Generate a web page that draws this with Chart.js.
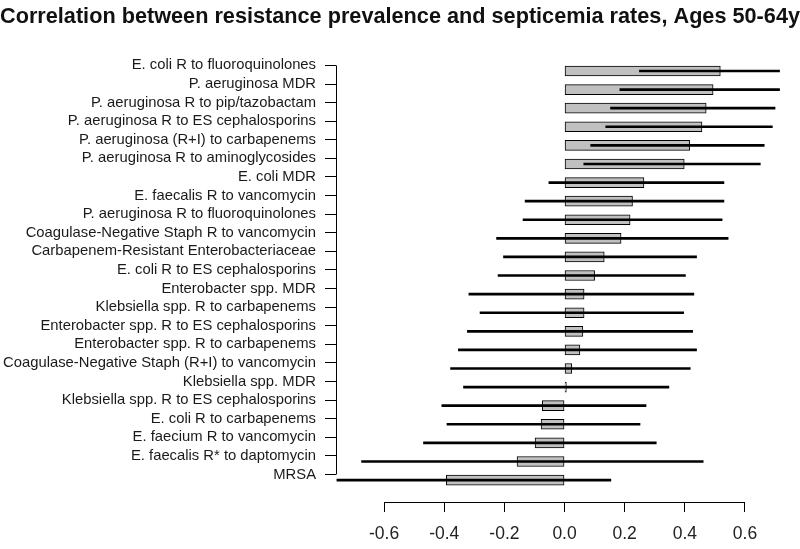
<!DOCTYPE html>
<html>
<head>
<meta charset="utf-8">
<title>Correlation between resistance prevalence and septicemia rates</title>
<script src="https://cdn.jsdelivr.net/npm/chart.js@4/dist/chart.umd.min.js"></script>
<style>
  html, body { margin: 0; padding: 0; background: #fff; }
  canvas { display: block; }
</style>
</head>
<body>
<canvas id="chart" width="800" height="549"></canvas>
<script>
// Data
const categories = [
  'E. coli R to fluoroquinolones',
  'P. aeruginosa MDR',
  'P. aeruginosa R to pip/tazobactam',
  'P. aeruginosa R to ES cephalosporins',
  'P. aeruginosa (R+I) to carbapenems',
  'P. aeruginosa R to aminoglycosides',
  'E. coli MDR',
  'E. faecalis R to vancomycin',
  'P. aeruginosa R to fluoroquinolones',
  'Coagulase-Negative Staph R to vancomycin',
  'Carbapenem-Resistant Enterobacteriaceae',
  'E. coli R to ES cephalosporins',
  'Enterobacter spp. MDR',
  'Klebsiella spp. R to carbapenems',
  'Enterobacter spp. R to ES cephalosporins',
  'Enterobacter spp. R to carbapenems',
  'Coagulase-Negative Staph (R+I) to vancomycin',
  'Klebsiella spp. MDR',
  'Klebsiella spp. R to ES cephalosporins',
  'E. coli R to carbapenems',
  'E. faecium R to vancomycin',
  'E. faecalis R* to daptomycin',
  'MRSA'
]
const correlation = [0.518, 0.494, 0.471, 0.457, 0.416, 0.398, 0.264, 0.226, 0.218, 0.188, 0.132, 0.100,
  0.065, 0.065, 0.061, 0.051, 0.024, 0.006, -0.074, -0.078, -0.098, -0.158, -0.393]
const lower = [0.249, 0.184, 0.153, 0.137, 0.087, 0.064, -0.052, -0.131, -0.138, -0.226, -0.203, -0.221,
  -0.318, -0.281, -0.323, -0.353, -0.379, -0.336, -0.408, -0.391, -0.469, -0.675, -0.757]
const upper = [0.715, 0.715, 0.700, 0.691, 0.664, 0.651, 0.530, 0.530, 0.524, 0.544, 0.439, 0.402,
  0.430, 0.396, 0.426, 0.439, 0.418, 0.347, 0.271, 0.251, 0.305, 0.461, 0.154]
const xTicks = [-0.6, -0.4, -0.2, 0.0, 0.2, 0.4, 0.6]

// labels/ticks sit a little above the bars in the original
const labelShift = 0.3
const FONT = "'Liberation Sans', Arial, sans-serif"

// R-style axis lines: only span first to last tick
const rAxisLines = {
  id: 'rAxisLines',
  afterDraw(chart) {
    const { ctx, chartArea, scales } = chart
    const x = scales.x
    const y = scales.y
    ctx.save()
    ctx.strokeStyle = '#000'
    ctx.lineWidth = 1
    ctx.beginPath()
    const lx = Math.round(chartArea.left) + 0.5
    ctx.moveTo(lx, y.getPixelForValue(-labelShift))
    ctx.lineTo(lx, y.getPixelForValue(categories.length - 1 - labelShift))
    const by = Math.round(chartArea.bottom) + 0.5
    ctx.moveTo(x.getPixelForValue(xTicks[0]), by)
    ctx.lineTo(x.getPixelForValue(xTicks[xTicks.length - 1]), by)
    ctx.stroke()
    ctx.restore()
  }
}

new Chart(document.getElementById('chart'), {
  type: 'bar',
  data: {
    datasets: [{
      // confidence interval, drawn on top of the bars
      label: 'CI',
      data: categories.map((c, i) => ({ y: i, x: [lower[i], upper[i]] })),
      backgroundColor: '#000',
      borderWidth: 0,
      barThickness: 2,
      grouped: false,
      order: 0
    }, {
      label: 'Correlation',
      data: categories.map((c, i) => ({ y: i, x: correlation[i] })),
      backgroundColor: '#c0c0c0',
      borderColor: '#000',
      borderWidth: 1,
      borderSkipped: false,
      barThickness: 10,
      grouped: false,
      order: 1
    }]
  },
  options: {
    indexAxis: 'y',
    responsive: false,
    animation: false,
    devicePixelRatio: 1,
    layout: { padding: 0 },
    plugins: {
      legend: { display: false },
      tooltip: { enabled: false },
      title: {
        display: true,
        text: 'Correlation between resistance prevalence and septicemia rates, Ages 50-64y',
        color: '#111',
        font: { family: FONT, size: 21.7, weight: 'bold' },
        padding: { top: 4, bottom: 27 }
      }
    },
    scales: {
      x: {
        type: 'linear',
        min: -0.76,
        max: 0.783,
        bounds: 'data',
        offset: false,
        afterBuildTicks: (s) => { s.ticks = xTicks.map(v => ({ value: v })) },
        afterFit: (s) => { s.height = 47 },
        border: { display: false },
        grid: { offset: false, drawOnChartArea: false, color: '#000', tickLength: 10 },
        ticks: {
          autoSkip: false,
          maxRotation: 0,
          color: '#222',
          padding: 12,
          font: { family: FONT, size: 17.5 },
          callback: (v) => Number(v).toFixed(1)
        }
      },
      y: {
        type: 'linear',
        reverse: true,
        min: -0.75,
        max: 23.18,
        bounds: 'data',
        offset: false,
        afterBuildTicks: (s) => { s.ticks = categories.map((c, i) => ({ value: i - labelShift })) },
        afterFit: (s) => { s.width = 336 },
        border: { display: false },
        grid: { offset: false, drawOnChartArea: false, color: '#000', tickLength: 11 },
        ticks: {
          autoSkip: false,
          color: '#1a1a1a',
          padding: 9,
          font: { family: FONT, size: 14.8 },
          callback: (v, idx) => categories[idx]
        }
      }
    }
  },
  plugins: [rAxisLines]
})
</script>
</body>
</html>
